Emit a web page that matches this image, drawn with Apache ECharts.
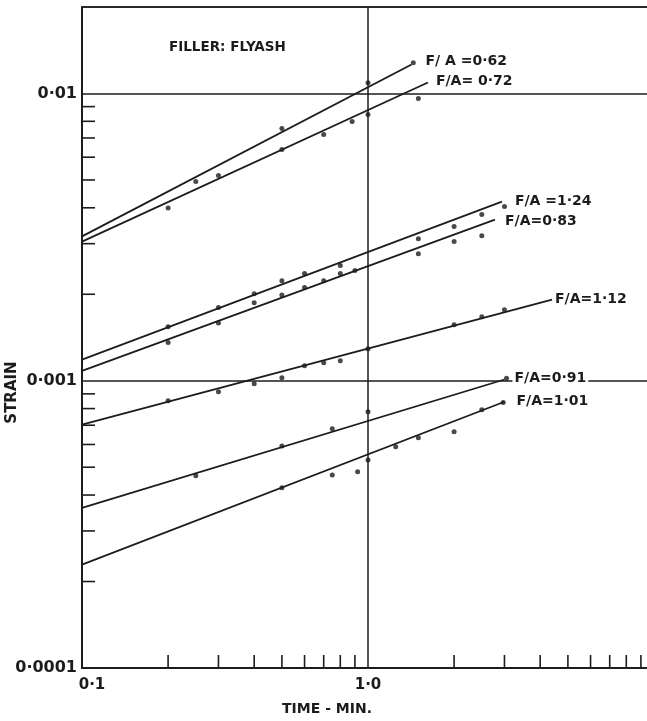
<!DOCTYPE html>
<html>
<head>
<meta charset="utf-8">
<script src="https://cdn.jsdelivr.net/npm/echarts@6/dist/echarts.min.js"></script>
<style>html,body{margin:0;padding:0;background:#fff;}#c{width:647px;height:721px;}</style>
</head>
<body>
<div id="c"></div>
<script>
// ---- data ----
const xMin = 0.1, xMax = 10;
const yMin = 0.0001, yMax = 0.02;
const xMinorTicks = [0.2,0.3,0.4,0.5,0.6,0.7,0.8,0.9,2,3,4,5,6,7,8,9];
const yMinorTicks = [0.0002,0.0003,0.0004,0.0005,0.0006,0.0007,0.0008,0.0009,0.002,0.003,0.004,0.005,0.006,0.007,0.008,0.009];
const xTickLabels = {'-1':'0·1','0':'1·0'};
const yTickLabels = {'-4':'0·0001','-3':'0·001','-2':'0·01'};

const seriesNames = ['F/ A =0·62','F/A= 0·72','F/A =1·24','F/A=0·83','F/A=1·12','F/A=0·91','F/A=1·01'];

const fa062Line = [[0.1,0.00318],[1.42,0.01262]];
const fa062Pts  = [[0.25,0.00494],[0.5,0.00755],[1.0,0.0109],[1.44,0.0128]];

const fa072Line = [[0.1,0.00305],[1.62,0.01092]];
const fa072Pts  = [[0.2,0.00399],[0.3,0.00518],[0.5,0.00638],[0.7,0.0072],[0.88,0.00799],[1.0,0.00845],[1.5,0.00961]];

const fa124Line = [[0.1,0.001184],[2.94,0.0042]];
const fa124Pts  = [[0.2,0.00154],[0.3,0.0018],[0.4,0.00201],[0.5,0.00223],[0.6,0.00236],[0.8,0.00252],[1.5,0.00312],[2.0,0.00344],[2.5,0.00379],[3.0,0.00404]];

const fa083Line = [[0.1,0.001083],[2.78,0.00364]];
const fa083Pts  = [[0.2,0.00136],[0.3,0.00159],[0.4,0.00187],[0.5,0.00199],[0.6,0.00211],[0.7,0.00223],[0.8,0.00236],[0.9,0.00242],[1.5,0.00277],[2.0,0.00305],[2.5,0.0032]];

const fa112Line = [[0.1,0.000703],[4.4,0.001915]];
const fa112Pts  = [[0.2,0.000852],[0.3,0.000915],[0.4,0.000976],[0.5,0.001024],[0.6,0.001128],[0.7,0.001155],[0.8,0.001174],[1.0,0.001292],[2.0,0.001567],[2.5,0.00167],[3.0,0.001768]];

const fa091Line = [[0.1,0.000361],[3.0,0.00101]];
const fa091Pts  = [[0.25,0.000467],[0.5,0.000593],[0.75,0.00068],[1.0,0.00078],[3.05,0.00102]];

const fa101Line = [[0.1,0.000229],[3.0,0.000845]];
const fa101Pts  = [[0.5,0.000424],[0.75,0.00047],[0.92,0.000482],[1.0,0.00053],[1.25,0.000589],[1.5,0.000633],[2.0,0.000664],[2.5,0.000793],[2.97,0.00084]];

// label offsets (text placement only)
const labelOffsets = [[12,-3],[6,-1],[11,0],[8,2],[1,0],[8,-1],[10,0]];

// ---- chart ----
const INK = '#1c1c1c';
const FONT = 'DejaVu Sans';
const lines = [fa062Line,fa072Line,fa124Line,fa083Line,fa112Line,fa091Line,fa101Line];
const pts = [fa062Pts,fa072Pts,fa124Pts,fa083Pts,fa112Pts,fa091Pts,fa101Pts];

const series = [];
lines.forEach((ln, i) => {
  series.push({
    type: 'line', name: seriesNames[i], data: ln, symbol: 'none', silent: true,
    lineStyle: {color: INK, width: 1.8},
    endLabel: {
      show: true, formatter: seriesNames[i], color: INK, fontFamily: FONT, fontSize: 14, fontWeight: 'bold',
      distance: 0, offset: labelOffsets[i],
      backgroundColor: i === 5 ? '#fff' : 'transparent', padding: [1,2,1,2]
    },
    z: 3
  });
  series.push({
    type: 'scatter', name: seriesNames[i] + ' data', data: pts[i], symbol: 'circle', symbolSize: 5,
    itemStyle: {color: INK}, silent: true, z: 4
  });
});

series.push({
  type: 'custom', name: 'x minor ticks', silent: true, clip: false,
  data: xMinorTicks.map(v => [v, yMin]),
  renderItem: (p, api) => {
    const c = api.coord([api.value(0), api.value(1)]);
    return {type: 'line', shape: {x1: c[0], y1: c[1], x2: c[0], y2: c[1] - 13}, style: {stroke: INK, lineWidth: 1.6}};
  }, z: 2
});
series.push({
  type: 'custom', name: 'y minor ticks', silent: true, clip: false,
  data: yMinorTicks.map(v => [xMin, v]),
  renderItem: (p, api) => {
    const c = api.coord([api.value(0), api.value(1)]);
    return {type: 'line', shape: {x1: c[0], y1: c[1], x2: c[0] + 13, y2: c[1]}, style: {stroke: INK, lineWidth: 1.6}};
  }, z: 2
});

const keyOf = v => String(Math.round(Math.log10(v)));
const isPow = v => Math.abs(Math.log10(v) - Math.round(Math.log10(v))) < 1e-6;

const option = {
  backgroundColor: '#ffffff',
  animation: false,
  title: {
    text: 'FILLER: FLYASH', left: 164, top: 35,
    textStyle: {color: INK, fontFamily: FONT, fontSize: 13.5, fontWeight: 'bold'}
  },
  grid: {left: 82, right: -7, top: 7, bottom: 53, containLabel: false, outerBoundsMode: 'none'},
  xAxis: [{
    type: 'log', logBase: 10, min: xMin, max: xMax,
    name: 'TIME - MIN.', nameLocation: 'middle', nameGap: 34, nameMoveOverlap: false,
    nameTextStyle: {color: INK, fontFamily: FONT, fontSize: 14, fontWeight: 'bold', padding: [0, 82, 0, 0]},
    axisLine: {show: true, lineStyle: {color: INK, width: 1.8}},
    axisTick: {show: false},
    splitLine: {show: true, lineStyle: {color: INK, width: 1.5}},
    axisLabel: {
      color: INK, fontFamily: FONT, fontSize: 15, fontWeight: 'bold', margin: 10,
      formatter: v => isPow(v) && xTickLabels[keyOf(v)] ? (keyOf(v) === '-1' ? '{l|' + xTickLabels['-1'] + '}' : xTickLabels[keyOf(v)]) : '',
      rich: {l: {color: INK, fontFamily: FONT, fontSize: 15, fontWeight: 'bold', padding: [0, 0, 0, 20]}}
    }
  }, {
    type: 'log', logBase: 10, min: xMin, max: xMax, position: 'top',
    axisLine: {show: true, lineStyle: {color: INK, width: 1.6}},
    axisTick: {show: false}, axisLabel: {show: false}, splitLine: {show: false}
  }],
  yAxis: {
    type: 'log', logBase: 10, min: yMin, max: yMax,
    name: 'STRAIN', nameLocation: 'middle', nameGap: 62, nameMoveOverlap: false,
    nameTextStyle: {color: INK, fontFamily: FONT, fontSize: 15, fontWeight: 'bold', padding: [0, 110, 0, 0]},
    axisLine: {show: true, lineStyle: {color: INK, width: 2}},
    axisTick: {show: false},
    splitLine: {show: true, lineStyle: {color: INK, width: 1.5}},
    axisLabel: {
      color: INK, fontFamily: FONT, fontSize: 16, fontWeight: 'bold', margin: 5,
      formatter: v => isPow(v) && yTickLabels[keyOf(v)] ? yTickLabels[keyOf(v)] : ''
    }
  },
  series: series
};

const chart = echarts.init(document.getElementById('c'), null, {renderer: 'canvas'});
chart.setOption(option);
</script>
</body>
</html>
